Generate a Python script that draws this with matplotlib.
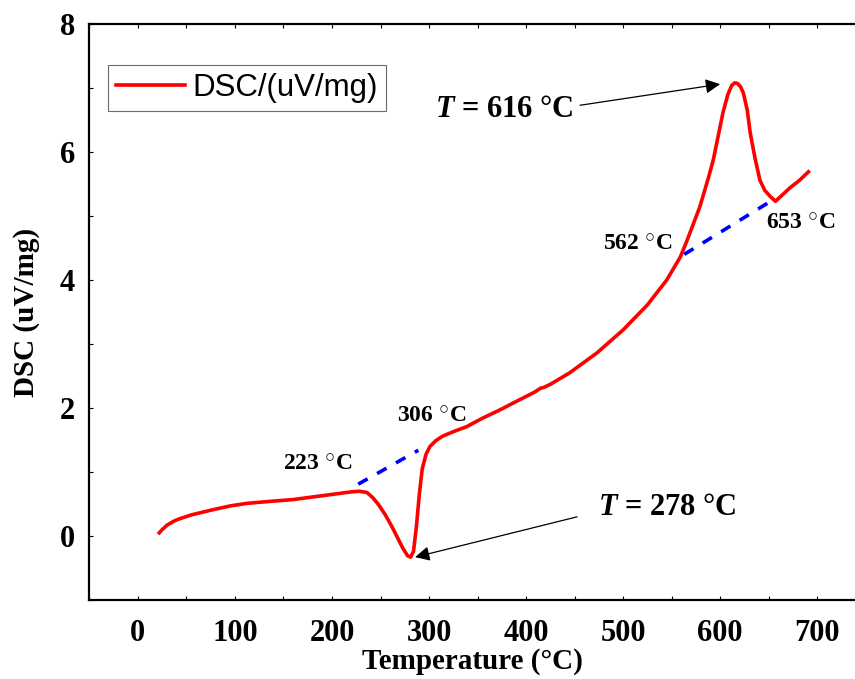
import numpy as np
import matplotlib.pyplot as plt
from matplotlib.ticker import MultipleLocator

# Fuentes: Times en negrita -> Liberation Serif
plt.rcParams['font.family'] = 'Liberation Serif'
plt.rcParams['font.weight'] = 'bold'
plt.rcParams['mathtext.fontset'] = 'custom'
plt.rcParams['mathtext.rm'] = 'Liberation Serif:bold'
plt.rcParams['mathtext.it'] = 'Liberation Serif:italic:bold'
plt.rcParams['mathtext.bf'] = 'Liberation Serif:bold'

# Curva DSC
temp = [22, 25, 30, 38, 43, 55, 77, 95, 112, 135, 160, 185, 205, 220, 228, 236,
        242, 248, 255, 262, 268, 273, 278, 281, 284, 287, 290, 293, 297, 301,
        307, 314, 325, 339, 355, 373, 387, 400, 409, 415, 418, 425, 445, 473,
        500, 525, 545, 559, 566, 579, 588, 593, 598, 603, 608, 612, 615, 618,
        621, 624, 628, 631, 636, 641, 646, 652, 657, 662, 672, 682, 691]
dsc = [0.05, 0.10, 0.17, 0.24, 0.27, 0.33, 0.41, 0.47, 0.51, 0.54, 0.57, 0.62,
       0.66, 0.69, 0.70, 0.68, 0.60, 0.49, 0.33, 0.14, -0.04, -0.19, -0.31,
       -0.33, -0.24, 0.15, 0.65, 1.05, 1.28, 1.40, 1.49, 1.56, 1.63, 1.71,
       1.84, 1.97, 2.08, 2.18, 2.25, 2.31, 2.32, 2.37, 2.55, 2.86, 3.22, 3.61,
       4.00, 4.36, 4.62, 5.14, 5.60, 5.88, 6.25, 6.62, 6.90, 7.04, 7.08, 7.07,
       7.02, 6.92, 6.65, 6.30, 5.90, 5.56, 5.40, 5.30, 5.23, 5.30, 5.44, 5.56,
       5.69]

# Líneas base (tangentes) en azul
base1_t = [227, 289]
base1_y = [0.81, 1.34]
base2_t = [563, 651]
base2_y = [4.40, 5.22]

fig = plt.figure(figsize=(8.55, 6.79), dpi=100)
ax = fig.add_axes([0.104, 0.1163, 0.896, 0.8484])

ax.plot(temp, dsc, color='red', lw=2.6, label='DSC/(uV/mg)')
ax.plot(base1_t, base1_y, color='blue', lw=2.6, ls=(0, (3, 3)))
ax.plot(base2_t, base2_y, color='blue', lw=2.6, ls=(0, (3, 3)))

ax.set_xlim(-50.5, 739)
ax.set_ylim(-1, 8)
ax.xaxis.set_major_locator(MultipleLocator(100))
ax.xaxis.set_minor_locator(MultipleLocator(50))
ax.yaxis.set_minor_locator(MultipleLocator(1))
ax.set_yticks([0, 2, 4, 6, 8])
ax.tick_params(which='both', direction='in', length=3, width=0.8,
               top=True, labelsize=22)
ax.tick_params(axis='x', pad=14)
ax.tick_params(axis='y', pad=10)
ax.spines['right'].set_visible(False)
for s in ['left', 'bottom', 'top']:
    ax.spines[s].set_linewidth(1.6)

ax.set_xlabel('Temperature (°C)', fontsize=21, fontweight='bold', labelpad=0)
ax.set_ylabel('DSC (uV/mg)', fontsize=21, fontweight='bold', labelpad=14)

leg = ax.legend(loc='upper left', bbox_to_anchor=(0.025, 0.928),
                prop={'family': 'Liberation Sans', 'weight': 'normal', 'size': 22.5},
                frameon=True, fancybox=False, handlelength=2.2,
                borderpad=0.25, handletextpad=0.25, borderaxespad=0)
leg.get_frame().set_edgecolor('#444444')
leg.get_frame().set_linewidth(0.8)

# Anotaciones de temperatura
small = dict(fontsize=17, fontweight='bold', ha='center', va='center')
ax.text(185.6, 1.11, r'223 $^{○}$C', **small)
ax.text(303, 1.86, r'306 $^{○}$C', **small)
ax.text(515.5, 4.56, r'562 $^{○}$C', **small)
ax.text(682.5, 4.875, r'653 $^{○}$C', **small)

arrow = dict(arrowstyle='-|>', color='black', lw=0.9, mutation_scale=22,
             shrinkA=0, shrinkB=0)
ax.text(448.5, 6.66, r'$T$ = 616 °C', fontsize=22, fontweight='bold',
        ha='right', va='center')
ax.annotate('', xy=(600, 7.06), xytext=(455.7, 6.73), arrowprops=arrow)
ax.text(474, 0.44, r'$T$ = 278 °C', fontsize=22, fontweight='bold',
        ha='left', va='center')
ax.annotate('', xy=(285.6, -0.33), xytext=(452.6, 0.30), arrowprops=arrow)

plt.savefig('out.png', dpi=100)
